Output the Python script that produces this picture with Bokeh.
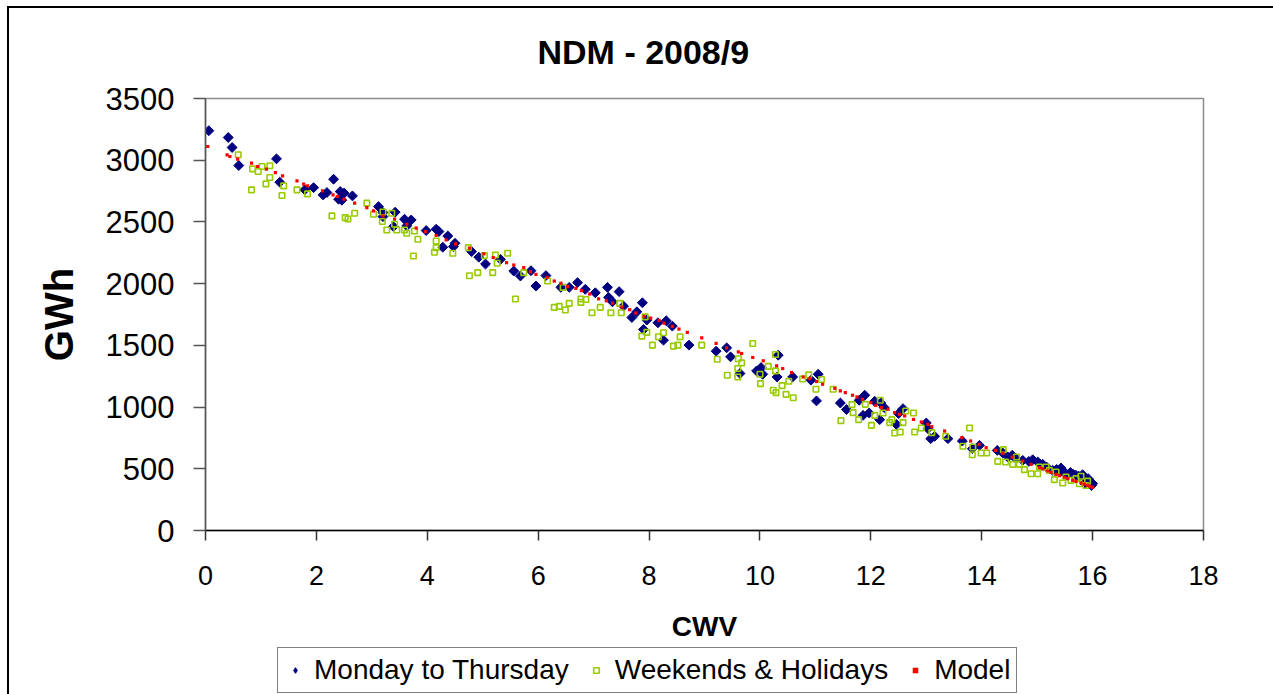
import numpy as np
from bokeh.plotting import figure
from bokeh.layouts import column
from bokeh.models import FixedTicker, Legend, LegendItem, Range1d
from bokeh.embed import file_html
from bokeh.resources import INLINE

# Monday to Thursday
mon_x = [0.06, 0.41, 0.48, 0.60, 1.28, 1.34, 1.79, 1.95, 2.12, 2.19, 2.31, 2.40, 2.43, 2.46, 2.50,
         2.65, 3.12, 3.20, 3.20, 3.39, 3.42, 3.59, 3.63, 3.71, 3.98, 4.16, 4.21, 4.28, 4.37, 4.47,
         4.50, 4.80, 4.93, 5.05, 5.32, 5.56, 5.68, 5.87, 5.96, 6.14, 6.41, 6.56, 6.71, 6.85, 7.03,
         7.25, 7.27, 7.34, 7.46, 7.54, 7.69, 7.78, 7.88, 7.90, 7.96, 8.16, 8.26, 8.31, 8.42, 8.72,
         9.21, 9.40, 9.47, 9.64, 9.94, 10.02, 10.05, 10.31, 10.33, 10.59, 10.92, 11.05, 11.02, 11.45,
         11.56, 11.79, 11.89, 11.86, 11.97, 12.07, 12.16, 12.18, 12.24, 12.46, 12.50, 12.58, 13.00,
         13.03, 13.08, 13.15, 13.39, 13.65, 13.83, 13.96, 14.28, 14.38, 14.47, 14.55, 14.62, 14.74,
         14.85, 14.92, 15.01, 15.05, 15.10, 15.17, 15.28, 15.35, 15.43, 15.45, 15.52, 15.60, 15.65,
         15.70, 15.75, 15.82, 15.86, 15.89, 15.92, 15.95, 15.98, 16.00]
mon_y = [3239, 3184, 3103, 2957, 3011, 2822, 2760, 2778, 2719, 2738, 2846, 2684, 2746, 2676, 2733,
         2711, 2624, 2576, 2543, 2462, 2579, 2522, 2468, 2516, 2430, 2441, 2422, 2295, 2386, 2300,
         2327, 2259, 2214, 2159, 2197, 2102, 2062, 2105, 1981, 2065, 1970, 1970, 2008, 1954, 1926,
         1970, 1889, 1853, 1935, 1818, 1726, 1772, 1845, 1629, 1705, 1683, 1542, 1699, 1656, 1502,
         1453, 1480, 1407, 1272, 1293, 1320, 1266, 1244, 1420, 1244, 1218, 1266, 1050, 1033,
         980, 1055, 1096, 933, 952, 1047, 898, 1033, 996, 860, 947, 987, 871,
         825, 744, 763, 744, 725, 663, 690, 649, 628, 595, 610, 582, 568,
         560, 573, 555, 540, 536, 514, 487, 495, 506, 480, 460, 470, 455,
         447, 440, 452, 379, 412, 420, 393, 365, 380]

# Weekends & Holidays
wkd_x = [0.59, 0.83, 0.85, 0.95, 1.02, 1.09, 1.16, 1.16, 1.38, 1.41, 1.65, 1.84, 2.28, 2.52, 2.57,
         2.69, 2.91, 3.03, 3.19, 3.20, 3.27, 3.36, 3.41, 3.45, 3.59, 3.63, 3.75, 3.77, 3.83, 4.13,
         4.16, 4.16, 4.46, 4.74, 4.76, 4.91, 5.03, 5.18, 5.23, 5.26, 5.45, 5.59, 5.74, 6.17, 6.29,
         6.38, 6.45, 6.49, 6.56, 6.77, 6.77, 6.86, 6.97, 7.12, 7.31, 7.47, 7.50, 7.87, 7.93, 7.96,
         8.06, 8.17, 8.26, 8.44, 8.52, 8.56, 8.95, 9.23, 9.41, 9.60, 9.60, 9.61, 9.67, 9.87, 10.00,
         10.01, 10.15, 10.24, 10.28, 10.28, 10.29, 10.40, 10.47, 10.52, 10.60, 10.77, 10.88, 11.01,
         11.11, 11.32, 11.46, 11.66, 11.68, 11.78, 11.90, 12.01, 12.07, 12.17, 12.22, 12.34, 12.38,
         12.43, 12.53, 12.58, 12.63, 12.77, 12.79, 12.91, 13.10, 13.35, 13.66, 13.78, 13.83, 13.84,
         13.99, 14.09, 14.29, 14.39, 14.43, 14.56, 14.63, 14.68, 14.77, 14.89, 15.01, 15.04, 15.16,
         15.22, 15.31, 15.34, 15.46, 15.52, 15.61, 15.70, 15.76, 15.79, 15.88, 15.91]
wkd_y = [3044, 2760, 2930, 2908, 2949, 2808, 2955, 2860, 2714, 2792, 2760, 2727, 2549, 2535, 2524,
         2570, 2652, 2562, 2503, 2580, 2435, 2570, 2481, 2435, 2435, 2408, 2224, 2427, 2360, 2254,
         2346, 2292, 2246, 2292, 2064, 2089, 2227, 2089, 2232, 2165, 2246, 1875, 2089, 2021, 1808,
         1816, 1970, 1786, 1840, 1875, 1848, 1872, 1764, 1808, 1764, 1840, 1764, 1575, 1731, 1605,
         1502, 1570, 1602, 1494, 1502, 1570, 1502, 1388, 1258, 1312, 1244, 1391, 1358, 1515, 1266,
         1190, 1330, 1136, 1426, 1293, 1117, 1174, 1103, 1209, 1076, 1228, 1261, 1144,
         1223, 1144, 890, 1020, 955, 898, 1022, 852, 933, 1055, 952, 874, 898,
         790, 798, 874, 968, 952, 798, 830, 793, 763, 682, 830, 614, 677,
         628, 628, 560, 655, 555, 536, 595, 536, 493, 460, 460, 514, 514,
         487, 412, 474, 385, 433, 406, 420, 379, 439, 365, 400]

# Model
model_x = [0.04, 0.39, 0.44, 0.58, 0.83, 0.94, 1.10, 1.26, 1.39, 1.65, 1.77, 1.84, 2.11, 2.30, 2.38,
           2.50, 2.69, 2.91, 3.03, 3.20, 3.41, 3.63, 3.80, 3.97, 4.16, 4.34, 4.51, 4.76, 5.02, 5.19,
           5.43, 5.56, 5.74, 5.86, 5.96, 6.16, 6.29, 6.41, 6.53, 6.68, 6.78, 6.93, 7.09, 7.23, 7.34,
           7.51, 7.65, 7.76, 7.91, 8.03, 8.18, 8.27, 8.42, 8.54, 8.69, 8.95, 9.21, 9.40, 9.61, 9.67,
           9.87, 10.06, 10.30, 10.41, 10.57, 10.78, 10.90, 11.02, 11.13, 11.35, 11.45, 11.54, 11.67,
           11.75, 11.85, 12.00, 12.09, 12.19, 12.31, 12.43, 12.52, 12.61, 12.77, 12.91, 13.03, 13.10,
           13.33, 13.64, 13.80, 13.95, 14.08, 14.25, 14.38, 14.55, 14.74, 14.89, 15.04, 15.10, 15.19,
           15.25, 15.34, 15.40, 15.49, 15.55, 15.64, 15.70, 15.79, 15.85, 15.91, 15.95, 16.00]
model_y = [3111, 3044, 3030, 3009, 2976, 2949, 2927, 2900, 2873, 2833, 2806, 2793, 2752, 2719, 2706,
           2684, 2652, 2616, 2589, 2549, 2522, 2481, 2449, 2422, 2390, 2354, 2322, 2287, 2241, 2211,
           2170, 2151, 2130, 2097, 2075, 2051, 2021, 2003, 1976, 1962, 1943, 1916, 1877, 1861, 1842,
           1810, 1789, 1762, 1735, 1721, 1702, 1680, 1654, 1632, 1605, 1561, 1516, 1480, 1447, 1434,
           1402, 1375, 1334, 1312, 1280, 1244, 1231, 1207, 1185, 1152, 1131, 1117, 1096,
           1082, 1063, 1036, 1014, 996, 982, 955, 941, 928, 900, 879, 860, 841,
           806, 752, 725, 698, 671, 649, 625, 595, 563, 536, 509, 500, 482,
           470, 455, 445, 433, 420, 406, 398, 387, 376, 366, 360, 350]

series_labels = ["Monday to Thursday", "Weekends & Holidays", "Model"]
x_ticks = [0, 2, 4, 6, 8, 10, 12, 14, 16, 18]
y_ticks = [0, 500, 1000, 1500, 2000, 2500, 3000, 3500]

FONT = "Liberation Sans"
BLUE, GREEN, RED = "#000080", "#99CC00", "#FF0000"

p = figure(width=1273, height=646, output_backend="svg", toolbar_location=None,
           x_range=Range1d(0, 18), y_range=Range1d(0, 3500),
           min_border_left=205, min_border_right=70, min_border_top=98, min_border_bottom=116)
p.border_fill_alpha = 0

p.scatter(mon_x, mon_y, marker="square", angle=np.pi / 4, size=7,
          fill_color=BLUE, line_color=BLUE, line_width=1)
p.scatter(wkd_x, wkd_y, marker="square", size=5.5, fill_color=None,
          line_color=GREEN, line_width=1.6)
p.scatter(model_x, model_y, marker="square", size=3.2, fill_color=RED, line_color=None)

p.title.text = "NDM - 2008/9"
p.title.text_font = FONT
p.title.text_font_size = "34px"
p.title.text_font_style = "bold"
p.title.text_color = "#000000"
p.title.align = "left"
p.title.offset = 332
p.title.standoff = 55

p.xgrid.visible = False
p.ygrid.visible = False
p.outline_line_color = "#8c8c8c"
p.outline_line_width = 1.5

xa = p.xaxis[0]
xa.ticker = FixedTicker(ticks=x_ticks)
xa.minor_tick_line_color = None
xa.major_tick_in = 0
xa.major_tick_out = 10
xa.major_tick_line_color = "#333333"
xa.major_tick_line_width = 1.5
xa.axis_line_color = "#000000"
xa.axis_line_width = 1.5
xa.major_label_text_font = FONT
xa.major_label_text_font_size = "27px"
xa.major_label_text_color = "#000000"
xa.major_label_standoff = 25
xa.axis_label = "CWV"
xa.axis_label_text_font = FONT
xa.axis_label_text_font_size = "28px"
xa.axis_label_text_font_style = "bold"
xa.axis_label_text_color = "#000000"
xa.axis_label_standoff = 23

ya = p.yaxis[0]
ya.ticker = FixedTicker(ticks=y_ticks)
ya.minor_tick_line_color = None
ya.major_tick_in = 0
ya.major_tick_out = 12
ya.major_tick_line_color = "#555555"
ya.major_tick_line_width = 1.5
ya.axis_line_color = "#555555"
ya.axis_line_width = 1.5
ya.major_label_text_font = FONT
ya.major_label_text_font_size = "31px"
ya.major_label_text_color = "#000000"
ya.major_label_standoff = 19
ya.axis_label = "GWh"
ya.axis_label_text_font = FONT
ya.axis_label_text_font_size = "40px"
ya.axis_label_text_font_style = "bold"
ya.axis_label_text_color = "#000000"
ya.axis_label_standoff = 22

# legend strip below the chart (its frame is aligned with the chart's frame)
lg = figure(width=1273, height=48, output_backend="svg", toolbar_location=None,
            x_range=Range1d(0, 1), y_range=Range1d(0, 1),
            x_axis_location=None, y_axis_location=None,
            min_border_left=0, min_border_right=0, min_border_top=0, min_border_bottom=0)
lg.border_fill_alpha = 0
lg.background_fill_alpha = 0
lg.outline_line_color = None
lg.xgrid.visible = False
lg.ygrid.visible = False
# single off-range points so that the legend has something to draw its glyphs from
g1 = lg.scatter([-5], [-5], marker="diamond", size=9,
                fill_color=BLUE, line_color=BLUE, line_width=1)
g2 = lg.scatter([-5], [-5], marker="square", size=5.5, fill_color=None,
                line_color=GREEN, line_width=1.6)
g3 = lg.scatter([-5], [-5], marker="square", size=3.2, fill_color=RED, line_color=None)

legend = Legend(items=[LegendItem(label=series_labels[0], renderers=[g1]),
                       LegendItem(label=series_labels[1], renderers=[g2]),
                       LegendItem(label=series_labels[2], renderers=[g3])],
                orientation="horizontal", location=(72, 1), margin=0,
                label_text_font=FONT, label_text_font_size="28px",
                label_text_color="#000000",
                glyph_width=22, glyph_height=14, label_standoff=8, spacing=16, padding=6,
                border_line_color="#000000", border_line_width=1.5,
                background_fill_color="#ffffff", background_fill_alpha=1)
lg.add_layout(legend, "center")

layout = column(p, lg, spacing=0)
layout.styles = {
    "background-color": "#ffffff",
    "background-image": "linear-gradient(#000000, #000000), linear-gradient(#000000, #000000)",
    "background-position": "7px 6px, 7px 6px",
    "background-size": "2px 700px, 1300px 2px",
    "background-repeat": "no-repeat",
}

open("out.html", "w").write(file_html(layout, INLINE))
